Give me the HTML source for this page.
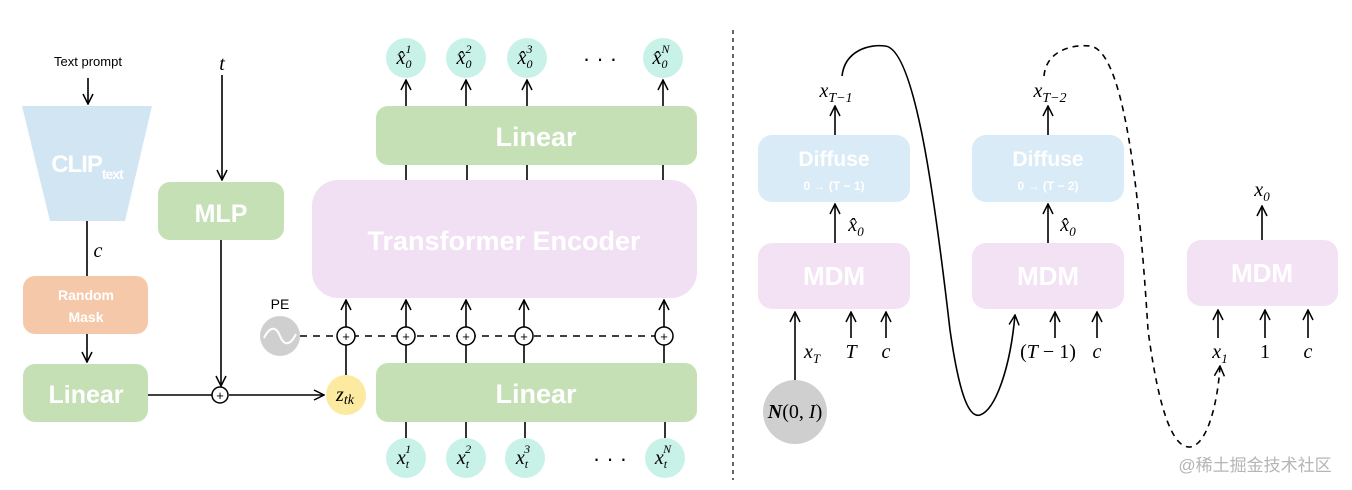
<!DOCTYPE html>
<html><head><meta charset="utf-8"><style>
html,body{margin:0;padding:0;background:#fff;}
svg{display:block;}
.w{fill:#fff;font-family:"Liberation Sans",sans-serif;font-weight:bold;text-anchor:middle;}
.m{font-family:"Liberation Serif",serif;font-style:italic;font-size:20px;text-anchor:middle;fill:#000;}
.n{font-family:"Liberation Serif",serif;font-size:20px;text-anchor:middle;fill:#000;}
</style></head><body>
<svg width="1352" height="490" viewBox="0 0 1352 490" xmlns="http://www.w3.org/2000/svg">
<defs>
<marker id="a" viewBox="0 0 12 12" refX="11" refY="6" markerWidth="12" markerHeight="12" markerUnits="userSpaceOnUse" orient="auto"><path d="M1,1 L11,6 L1,11" fill="none" stroke="#000" stroke-width="1.5"/></marker>
</defs>
<g stroke="#000" stroke-width="1.6" fill="none">
<line x1="88" y1="78" x2="88" y2="104" marker-end="url(#a)"/>
<line x1="87" y1="221" x2="87" y2="276"/>
<line x1="87" y1="334" x2="87" y2="362" marker-end="url(#a)"/>
<line x1="222" y1="75" x2="222" y2="180" marker-end="url(#a)"/>
<line x1="221" y1="240" x2="221" y2="386" marker-end="url(#a)"/>
<line x1="148" y1="395" x2="212" y2="395"/>
<line x1="229" y1="395" x2="324" y2="395" marker-end="url(#a)"/>
<line x1="346" y1="375" x2="346" y2="345"/>
<line x1="300" y1="336" x2="660" y2="336" stroke-dasharray="7,6"/>
<line x1="346" y1="327" x2="346" y2="300" marker-end="url(#a)"/>
<line x1="406" y1="363" x2="406" y2="345"/><line x1="406" y1="327" x2="406" y2="300" marker-end="url(#a)"/>
<line x1="466" y1="363" x2="466" y2="345"/><line x1="466" y1="327" x2="466" y2="300" marker-end="url(#a)"/>
<line x1="524" y1="363" x2="524" y2="345"/><line x1="524" y1="327" x2="524" y2="300" marker-end="url(#a)"/>
<line x1="664" y1="363" x2="664" y2="345"/><line x1="664" y1="327" x2="664" y2="300" marker-end="url(#a)"/>
<line x1="406" y1="180" x2="406" y2="165"/><line x1="467" y1="180" x2="467" y2="165"/><line x1="527" y1="180" x2="527" y2="165"/><line x1="663" y1="180" x2="663" y2="165"/>
<line x1="406" y1="106" x2="406" y2="80" marker-end="url(#a)"/><line x1="466" y1="106" x2="466" y2="80" marker-end="url(#a)"/><line x1="527" y1="106" x2="527" y2="80" marker-end="url(#a)"/><line x1="663" y1="106" x2="663" y2="80" marker-end="url(#a)"/>
<line x1="406" y1="422" x2="406" y2="438"/><line x1="466" y1="422" x2="466" y2="438"/><line x1="525" y1="422" x2="525" y2="438"/><line x1="665" y1="422" x2="665" y2="438"/>
<line x1="733" y1="30" x2="733" y2="480" stroke-dasharray="4,4" stroke-width="1.2"/>
<line x1="835" y1="243" x2="835" y2="204" marker-end="url(#a)"/>
<line x1="835" y1="135" x2="835" y2="106" marker-end="url(#a)"/>
<line x1="795" y1="381" x2="795" y2="312" marker-end="url(#a)"/>
<line x1="851" y1="338" x2="851" y2="312" marker-end="url(#a)"/>
<line x1="886" y1="338" x2="886" y2="312" marker-end="url(#a)"/>
<line x1="1048" y1="243" x2="1048" y2="204" marker-end="url(#a)"/>
<line x1="1048" y1="135" x2="1048" y2="106" marker-end="url(#a)"/>
<line x1="1055" y1="338" x2="1055" y2="312" marker-end="url(#a)"/>
<line x1="1097" y1="338" x2="1097" y2="312" marker-end="url(#a)"/>
<line x1="1218" y1="338" x2="1218" y2="310" marker-end="url(#a)"/>
<line x1="1265" y1="338" x2="1265" y2="310" marker-end="url(#a)"/>
<line x1="1308" y1="338" x2="1308" y2="310" marker-end="url(#a)"/>
<line x1="1262" y1="240" x2="1262" y2="206" marker-end="url(#a)"/>
<path d="M842,76 C845,50 870,44 885,46 C915,48 935,200 950,330 C960,400 970,418 980,415 C995,410 1010,370 1015,315" marker-end="url(#a)"/>
<path d="M1044,76 C1046,52 1070,44 1090,46 C1125,50 1140,200 1148,330 C1160,420 1175,448 1190,447 C1208,445 1218,400 1220,366" stroke-dasharray="6,5" marker-end="url(#a)"/>
</g>
<polygon points="22,106 152,106 125,221 50,221" fill="#d2e5f3"/>
<rect x="23" y="276" width="125" height="58" rx="12" fill="#f6c8aa"/>
<rect x="23" y="364" width="125" height="58" rx="12" fill="#c6e0b6"/>
<rect x="158" y="182" width="126" height="58" rx="12" fill="#c6e0b6"/>
<rect x="312" y="180" width="385" height="118" rx="26" fill="#f1e0f3"/>
<rect x="376" y="106" width="321" height="59" rx="12" fill="#c6e0b6"/>
<rect x="376" y="363" width="321" height="59" rx="12" fill="#c6e0b6"/>
<circle cx="346" cy="395" r="20" fill="#fbeaa0"/>
<circle cx="280" cy="336" r="20" fill="#cfcfcf"/>
<path d="M264,338 C270,326 276,326 280,336 C284,346 290,346 296,334" stroke="#fff" stroke-width="2" fill="none"/>
<g fill="#fff" stroke="#000" stroke-width="1.5">
<circle cx="220" cy="395" r="8"/><circle cx="346" cy="336" r="9"/><circle cx="406" cy="336" r="9"/><circle cx="466" cy="336" r="9"/><circle cx="524" cy="336" r="9"/><circle cx="664" cy="336" r="9"/>
</g>
<g font-family="Liberation Sans" font-size="13" text-anchor="middle">
<text x="220" y="400">+</text><text x="346" y="341">+</text><text x="406" y="341">+</text><text x="466" y="341">+</text><text x="524" y="341">+</text><text x="664" y="341">+</text>
</g>
<g fill="#c8f1e8">
<circle cx="406" cy="58" r="20"/><circle cx="466" cy="58" r="20"/><circle cx="527" cy="58" r="20"/><circle cx="663" cy="58" r="20"/>
<circle cx="406" cy="458" r="20"/><circle cx="466" cy="458" r="20"/><circle cx="525" cy="458" r="20"/><circle cx="665" cy="458" r="20"/>
</g>
<rect x="758" y="135" width="152" height="67" rx="14" fill="#d8ebf7"/>
<rect x="758" y="243" width="152" height="66" rx="14" fill="#f3e2f4"/>
<rect x="972" y="135" width="152" height="67" rx="14" fill="#d8ebf7"/>
<rect x="972" y="243" width="152" height="66" rx="14" fill="#f3e2f4"/>
<rect x="1187" y="240" width="151" height="66" rx="14" fill="#f3e2f4"/>
<circle cx="795" cy="412" r="32" fill="#cfcfcf"/>
<text x="88" y="66" font-family="Liberation Sans" font-size="13" text-anchor="middle">Text prompt</text>
<text x="87" y="172" class="w" font-size="24" letter-spacing="-1">CLIP<tspan font-size="14" dy="7">text</tspan></text>
<text x="86" y="300" class="w" font-size="14">Random</text>
<text x="86" y="322" class="w" font-size="14">Mask</text>
<text x="86" y="403" class="w" font-size="25">Linear</text>
<text x="221" y="222" class="w" font-size="25">MLP</text>
<text x="504" y="250" class="w" font-size="27">Transformer Encoder</text>
<text x="536" y="146" class="w" font-size="27">Linear</text>
<text x="536" y="403" class="w" font-size="27">Linear</text>
<text x="222" y="70" class="m">t</text>
<text x="98" y="257" class="m">c</text>
<text x="280" y="309" font-family="Liberation Sans" font-size="14" text-anchor="middle">PE</text>
<text x="345" y="401" class="m" font-size="18">z<tspan font-size="14" dy="3">tk</tspan></text>
<g class="m" font-size="18">
<text x="404" y="64">x̂<tspan font-size="12" dy="4">0</tspan><tspan font-size="12" dx="-6" dy="-15">1</tspan></text>
<text x="464" y="64">x̂<tspan font-size="12" dy="4">0</tspan><tspan font-size="12" dx="-6" dy="-15">2</tspan></text>
<text x="525" y="64">x̂<tspan font-size="12" dy="4">0</tspan><tspan font-size="12" dx="-6" dy="-15">3</tspan></text>
<text x="661" y="64">x̂<tspan font-size="12" dy="4">0</tspan><tspan font-size="12" dx="-6" dy="-15">N</tspan></text>
<text x="404" y="464">x<tspan font-size="12" dy="4">t</tspan><tspan font-size="12" dx="-4" dy="-15">1</tspan></text>
<text x="464" y="464">x<tspan font-size="12" dy="4">t</tspan><tspan font-size="12" dx="-4" dy="-15">2</tspan></text>
<text x="523" y="464">x<tspan font-size="12" dy="4">t</tspan><tspan font-size="12" dx="-4" dy="-15">3</tspan></text>
<text x="663" y="464">x<tspan font-size="12" dy="4">t</tspan><tspan font-size="12" dx="-4" dy="-15">N</tspan></text>
</g>
<text x="600" y="66" font-size="22" font-family="Liberation Sans" text-anchor="middle">· · ·</text>
<text x="610" y="466" font-size="22" font-family="Liberation Sans" text-anchor="middle">· · ·</text>
<text x="834" y="166" class="w" font-size="21">Diffuse</text>
<text x="834" y="190" class="w" font-size="12" font-family="Liberation Serif">0 → (T − 1)</text>
<text x="1048" y="166" class="w" font-size="21">Diffuse</text>
<text x="1048" y="190" class="w" font-size="12" font-family="Liberation Serif">0 → (T − 2)</text>
<text x="834" y="285" class="w" font-size="26">MDM</text>
<text x="1048" y="285" class="w" font-size="26">MDM</text>
<text x="1262" y="282" class="w" font-size="26">MDM</text>
<text x="836" y="97" class="m">x<tspan font-size="14" dy="5">T−1</tspan></text>
<text x="1050" y="97" class="m">x<tspan font-size="14" dy="5">T−2</tspan></text>
<text x="856" y="231" class="m">x̂<tspan font-size="13" dy="5">0</tspan></text>
<text x="1068" y="231" class="m">x̂<tspan font-size="13" dy="5">0</tspan></text>
<text x="1262" y="196" class="m">x<tspan font-size="13" dy="5">0</tspan></text>
<text x="812" y="358" class="m">x<tspan font-size="13" dy="5">T</tspan></text>
<text x="851" y="358" class="m">T</text>
<text x="886" y="358" class="m">c</text>
<text x="1048" y="358" class="n">(<tspan font-style="italic">T</tspan> − 1)</text>
<text x="1097" y="358" class="m">c</text>
<text x="1220" y="358" class="m">x<tspan font-size="13" dy="5">1</tspan></text>
<text x="1265" y="358" class="n">1</text>
<text x="1308" y="358" class="m">c</text>
<text x="795" y="418" class="n" font-size="18"><tspan font-weight="bold" font-style="italic">N</tspan>(0, <tspan font-style="italic">I</tspan>)</text>
<text x="1255" y="471" font-family="Liberation Sans, Noto Sans CJK SC, sans-serif" font-size="17" fill="#b5b5b5" text-anchor="middle">@稀土掘金技术社区</text>
</svg>
</body></html>
